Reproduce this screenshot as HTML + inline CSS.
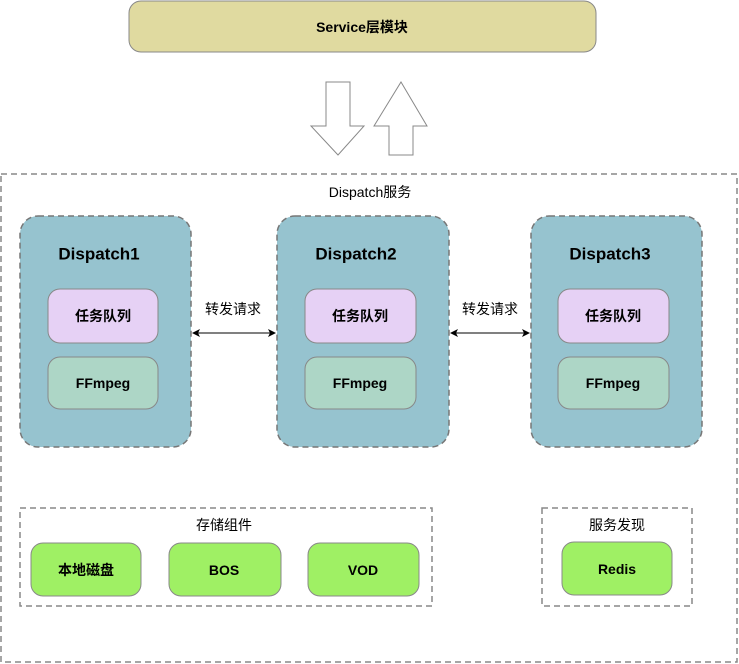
<!DOCTYPE html>
<html><head><meta charset="utf-8"><style>
html,body{margin:0;padding:0;background:#fff;width:739px;height:664px;overflow:hidden}
svg{display:block}
text{font-family:"Liberation Sans","Noto Sans CJK SC",sans-serif;fill:#000;text-anchor:middle;dominant-baseline:central}
.b{font-weight:bold}
</style></head><body>
<svg width="739" height="664" viewBox="0 0 739 664">
<defs>
<marker id="ah" markerWidth="8" markerHeight="8" refX="7" refY="4" orient="auto-start-reverse" markerUnits="userSpaceOnUse"><path d="M0,0 L8,4 L0,8 L2,4 z" fill="#000"/></marker>
</defs>
<rect x="129" y="1" width="467" height="51" rx="12" fill="#e0daa0" stroke="#888"/>
<text x="362" y="27" class="b" font-size="14">Service层模块</text>
<polygon points="326,82 350,82 350,126 364,126 338,155 311,126 326,126" fill="#fff" stroke="#888"/>
<polygon points="401,82 427,126 413,126 413,155 389,155 389,126 374,126" fill="#fff" stroke="#888"/>
<rect x="1" y="174" width="736" height="488" fill="none" stroke="#888" stroke-width="1.5" stroke-dasharray="6,4"/>
<text x="370" y="192" font-size="14">Dispatch服务</text>
<g stroke="#777" stroke-width="1.5" stroke-dasharray="6,4" fill="#96c3cf">
<rect x="20" y="216" width="171" height="231" rx="18"/>
<rect x="277" y="216" width="172" height="231" rx="18"/>
<rect x="531" y="216" width="171" height="231" rx="18"/>
</g>
<text x="99" y="254" class="b" font-size="17">Dispatch1</text>
<text x="356" y="254" class="b" font-size="17">Dispatch2</text>
<text x="610" y="254" class="b" font-size="17">Dispatch3</text>
<g stroke="#888" fill="#e6d1f5">
<rect x="48" y="289" width="110" height="54" rx="12"/>
<rect x="305" y="289" width="111" height="54" rx="12"/>
<rect x="558" y="289" width="111" height="54" rx="12"/>
</g>
<g stroke="#888" fill="#add6c6">
<rect x="48" y="357" width="110" height="52" rx="12"/>
<rect x="305" y="357" width="111" height="52" rx="12"/>
<rect x="558" y="357" width="111" height="52" rx="12"/>
</g>
<g class="b" font-size="14">
<text x="103" y="316" class="b">任务队列</text>
<text x="360" y="316" class="b">任务队列</text>
<text x="613" y="316" class="b">任务队列</text>
<text x="103" y="383" class="b">FFmpeg</text>
<text x="360" y="383" class="b">FFmpeg</text>
<text x="613" y="383" class="b">FFmpeg</text>
</g>
<line x1="193" y1="333" x2="275" y2="333" stroke="#000" marker-start="url(#ah)" marker-end="url(#ah)"/>
<line x1="451" y1="333" x2="529" y2="333" stroke="#000" marker-start="url(#ah)" marker-end="url(#ah)"/>
<text x="233" y="309" font-size="14">转发请求</text>
<text x="490" y="309" font-size="14">转发请求</text>
<g fill="none" stroke="#888" stroke-width="1.5" stroke-dasharray="6,4">
<rect x="20" y="508" width="412" height="98"/>
<rect x="542" y="508" width="150" height="98"/>
</g>
<text x="224" y="525" font-size="14">存储组件</text>
<text x="617" y="525" font-size="14">服务发现</text>
<g stroke="#888" fill="#9ff064">
<rect x="31" y="543" width="110" height="53" rx="12"/>
<rect x="169" y="543" width="112" height="53" rx="12"/>
<rect x="308" y="543" width="111" height="53" rx="12"/>
<rect x="562" y="542" width="110" height="53" rx="12"/>
</g>
<text x="86" y="570" class="b" font-size="14">本地磁盘</text>
<text x="224" y="570" class="b" font-size="14">BOS</text>
<text x="363" y="570" class="b" font-size="14">VOD</text>
<text x="617" y="569" class="b" font-size="14">Redis</text>
</svg>
</body></html>
